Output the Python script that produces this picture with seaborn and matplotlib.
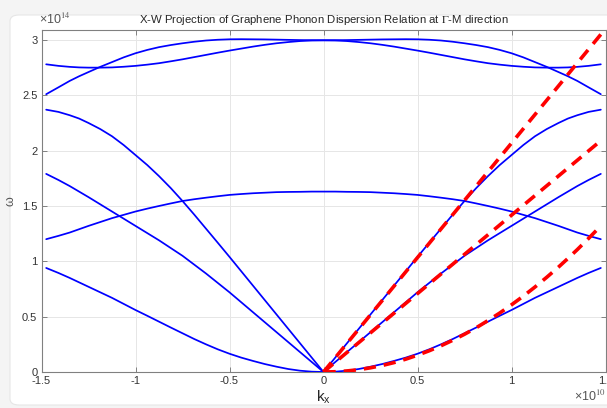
import numpy as np
import pandas as pd
import matplotlib
matplotlib.use("Agg")
import matplotlib.pyplot as plt
from matplotlib.patches import FancyBboxPatch
from matplotlib.ticker import FuncFormatter
import seaborn as sns

# wave-vector samples (units of 1e10 m^-1), from -M through Gamma to M
k = [-1.475, -1.41, -1.35, -1.30, -1.25, -1.1875, -1.125, -1.0625, -1.0, -0.9375, -0.875, -0.8125,
     -0.75, -0.6875, -0.625, -0.5625, -0.5, -0.4375, -0.375, -0.3125, -0.25, -0.1875, -0.125, -0.0625,
     0.0,
     0.0625, 0.125, 0.1875, 0.25, 0.3125, 0.375, 0.4375, 0.5, 0.5625, 0.625, 0.6875, 0.75,
     0.8125, 0.875, 0.9375, 1.0, 1.0625, 1.125, 1.1875, 1.25, 1.30, 1.35, 1.41, 1.475]

# phonon branches (units of 1e14 rad/s)
za = [0.94, 0.895, 0.85, 0.81, 0.77, 0.72, 0.67, 0.615, 0.56, 0.508, 0.455, 0.402,
      0.35, 0.298, 0.25, 0.205, 0.165, 0.13, 0.10, 0.072, 0.048, 0.027, 0.012, 0.003,
      0.0,
      0.003, 0.012, 0.027, 0.048, 0.072, 0.10, 0.13, 0.165, 0.205, 0.25, 0.298, 0.35,
      0.402, 0.455, 0.508, 0.56, 0.615, 0.67, 0.72, 0.77, 0.81, 0.85, 0.895, 0.94]
ta = [1.79, 1.735, 1.68, 1.63, 1.58, 1.515, 1.45, 1.385, 1.32, 1.255, 1.19, 1.12,
      1.05, 0.97, 0.89, 0.805, 0.72, 0.63, 0.54, 0.45, 0.36, 0.27, 0.18, 0.09,
      0.0,
      0.09, 0.18, 0.27, 0.36, 0.45, 0.54, 0.63, 0.72, 0.805, 0.89, 0.97, 1.05,
      1.12, 1.19, 1.255, 1.32, 1.385, 1.45, 1.515, 1.58, 1.63, 1.68, 1.735, 1.79]
la = [2.37, 2.35, 2.32, 2.29, 2.25, 2.195, 2.13, 2.05, 1.96, 1.87, 1.77, 1.662,
      1.545, 1.422, 1.295, 1.168, 1.04, 0.91, 0.78, 0.65, 0.52, 0.39, 0.26, 0.13,
      0.0,
      0.13, 0.26, 0.39, 0.52, 0.65, 0.78, 0.91, 1.04, 1.168, 1.295, 1.422, 1.545,
      1.662, 1.77, 1.87, 1.96, 2.05, 2.13, 2.195, 2.25, 2.29, 2.32, 2.35, 2.37]
zo = [1.20, 1.23, 1.26, 1.29, 1.32, 1.355, 1.39, 1.42, 1.45, 1.476, 1.50, 1.523,
      1.545, 1.561, 1.575, 1.588, 1.60, 1.608, 1.615, 1.62, 1.625, 1.627, 1.628, 1.63,
      1.63,
      1.63, 1.628, 1.627, 1.625, 1.62, 1.615, 1.608, 1.60, 1.588, 1.575, 1.561, 1.545,
      1.523, 1.50, 1.476, 1.45, 1.42, 1.39, 1.355, 1.32, 1.29, 1.26, 1.23, 1.20]
lo = [2.51, 2.572, 2.63, 2.672, 2.71, 2.757, 2.80, 2.843, 2.88, 2.91, 2.935, 2.954,
      2.97, 2.984, 2.995, 3.002, 3.006, 3.007, 3.006, 3.005, 3.003, 3.001, 2.999, 2.998,
      2.997,
      2.998, 2.999, 3.001, 3.003, 3.005, 3.006, 3.007, 3.006, 3.002, 2.995, 2.984, 2.97,
      2.954, 2.935, 2.91, 2.88, 2.843, 2.80, 2.757, 2.71, 2.672, 2.63, 2.572, 2.51]
to = [2.78, 2.766, 2.757, 2.752, 2.75, 2.75, 2.752, 2.758, 2.766, 2.777, 2.79, 2.807,
      2.825, 2.845, 2.865, 2.885, 2.904, 2.922, 2.94, 2.956, 2.97, 2.981, 2.99, 2.995,
      2.997,
      2.995, 2.99, 2.981, 2.97, 2.956, 2.94, 2.922, 2.904, 2.885, 2.865, 2.845, 2.825,
      2.807, 2.79, 2.777, 2.766, 2.758, 2.752, 2.75, 2.75, 2.752, 2.757, 2.766, 2.78]

# long-wavelength fits (red dashed)
k_lin = [0.0, 1.475]
la_fit = [0.0, 3.05]
ta_fit = [0.0, 2.09]
k_quad = [0.0, 0.0625, 0.125, 0.1875, 0.25, 0.3125, 0.375, 0.4375, 0.5, 0.5625, 0.625, 0.6875,
          0.75, 0.8125, 0.875, 0.9375, 1.0, 1.0625, 1.125, 1.1875, 1.25, 1.30, 1.35, 1.41, 1.475]
za_fit = [0.0, 0.0024, 0.0095, 0.021, 0.038, 0.059, 0.085, 0.116, 0.152, 0.192, 0.237, 0.287,
          0.341, 0.40, 0.465, 0.533, 0.607, 0.685, 0.768, 0.856, 0.948, 1.026, 1.106, 1.207, 1.32]

x_ticks = [-1.5, -1.0, -0.5, 0.0, 0.5, 1.0, 1.5]
y_ticks = [0.0, 0.5, 1.0, 1.5, 2.0, 2.5, 3.0]

sns.set_theme(style="whitegrid")
plt.rcParams['font.family'] = ['Liberation Sans', 'DejaVu Sans']
plt.rcParams['mathtext.fontset'] = 'stix'

W, H = 607, 408
fig = plt.figure(figsize=(W / 100, H / 100), dpi=100)
fig.patch.set_facecolor('#f4f4f4')
card = FancyBboxPatch((10 / W, 3 / H), 640 / W, 390 / H,
                      boxstyle="round,pad=0,rounding_size=0.015",
                      transform=fig.transFigure, facecolor='white',
                      edgecolor='#e6e6e6', linewidth=0.8, zorder=-10)
fig.add_artist(card)

ax = fig.add_axes([41.5 / W, 1 - 372 / H, 564 / W, 342 / H])
ax.set_facecolor('white')

blue = pd.DataFrame({'k': k, 'ZA': za, 'TA': ta, 'LA': la, 'ZO': zo, 'LO': lo, 'TO': to})
for col in ['ZA', 'TA', 'LA', 'ZO', 'LO', 'TO']:
    sns.lineplot(data=blue, x='k', y=col, ax=ax, color='#0000ff', linewidth=1.25,
                 sort=False, estimator=None, zorder=3)

lin = pd.DataFrame({'k': k_lin, 'LA': la_fit, 'TA': ta_fit})
quad = pd.DataFrame({'k': k_quad, 'ZA': za_fit})
for df, col in [(lin, 'LA'), (lin, 'TA'), (quad, 'ZA')]:
    sns.lineplot(data=df, x='k', y=col, ax=ax, color='#ff0000', linewidth=2.6,
                 sort=False, estimator=None, zorder=4,
                 linestyle=(0, (3.4, 2.2)))

ax.set_xlim(-1.5, 1.5)
ax.set_ylim(0, 3.09)
ax.set_xticks(x_ticks)
ax.set_yticks(y_ticks)
fmt = FuncFormatter(lambda v, p: '%g' % v)
ax.xaxis.set_major_formatter(fmt)
ax.yaxis.set_major_formatter(fmt)
ax.grid(True, color='#e6e6e6', linewidth=0.7)
ax.set_axisbelow(True)
for s in ax.spines.values():
    s.set_visible(True)
    s.set_color('#808080')
    s.set_linewidth(0.8)
ax.tick_params(direction='in', length=3.5, width=0.7, color='#808080',
               labelsize=8, labelcolor='#333333', top=True, right=True,
               bottom=True, left=True, pad=3)

ax.set_xlabel('k$_\\mathregular{x}$', fontsize=11, color='#262626', labelpad=2)
ax.set_ylabel('ω', fontsize=9, color='#555555', labelpad=4)
ax.set_title('X-W Projection of Graphene Phonon Dispersion Relation at $\\Gamma$-M direction',
             fontsize=8.2, color='#262626', pad=5)

ax.text(-0.004, 1.01, '×10$^{14}$', transform=ax.transAxes, fontsize=9,
        color='#555555', ha='left', va='bottom')
ax.text(1.0, -0.05, '×10$^{10}$', transform=ax.transAxes, fontsize=9,
        color='#555555', ha='right', va='top')

fig.savefig('out.png', dpi=100, facecolor=fig.get_facecolor())
